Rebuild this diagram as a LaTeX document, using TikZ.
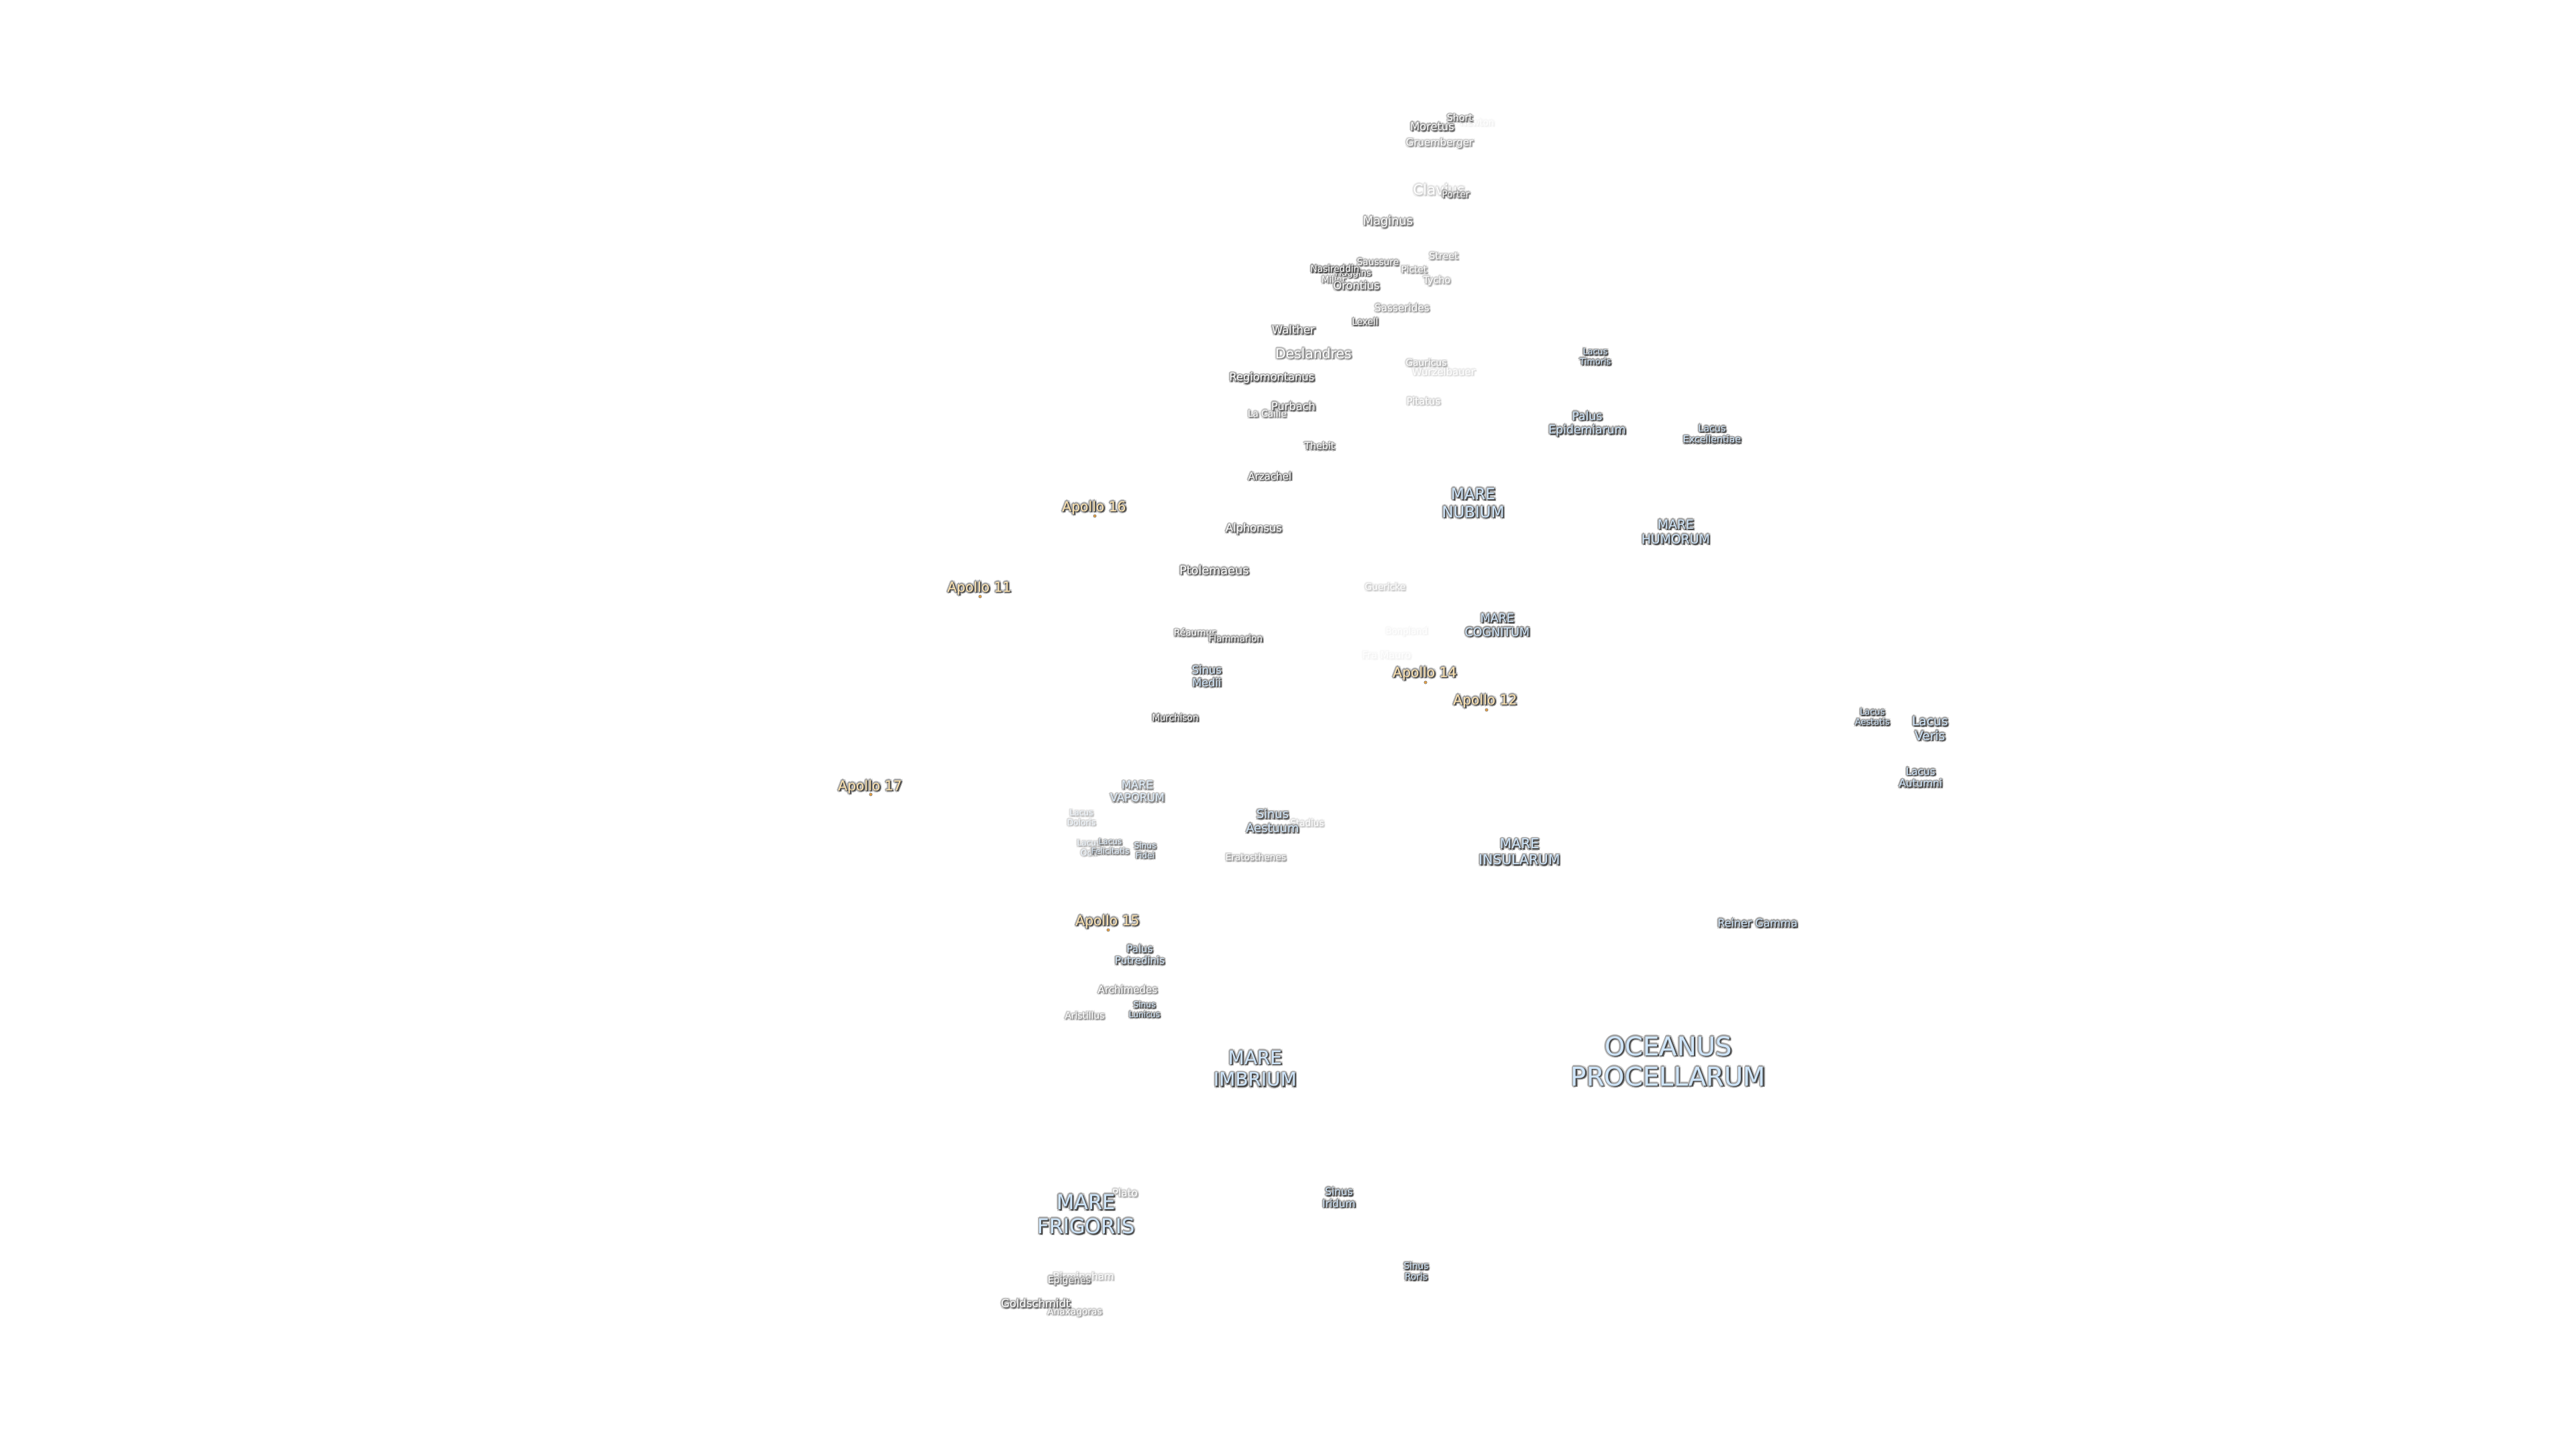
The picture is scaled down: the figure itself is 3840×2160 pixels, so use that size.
\documentclass[tikz,border=0pt]{standalone}
\usepackage{fontspec}
\setmainfont{DejaVu Sans}
\definecolor{mareblue}{HTML}{CFE6FB}
\definecolor{apollotan}{HTML}{FDE3B0}
\definecolor{dotorange}{HTML}{E8A040}
\definecolor{haloouter}{gray}{0.82}
\definecolor{halogray}{gray}{0.62}
\definecolor{shadowgray}{gray}{0.28}
\tikzset{
  lunartext/.style={inner sep=0pt,align=center,text=#1},
  sitedot/.style={circle,fill=dotorange,draw=gray,line width=0.3pt,inner sep=0pt,minimum size=2.2pt}
}
\newcommand{\lab}[7]{%
  \pgfmathsetmacro{\laberop}{min(1,(#6)^0.8)}%
  \pgfmathsetmacro{\labersz}{1.015*#4/2}%
  \pgfmathsetmacro{\laberls}{1.17*\labersz}%
  \pgfmathsetmacro{\labery}{#3+1.5}%
  \begin{scope}[transparency group,opacity=\laberop]
    \foreach \hx/\hy/\hi in {-2.6/0/o,3.2/0/p,0/-2.6/q,0/3.2/r,-1.8/-1.8/s,2.6/-1.8/t,-1.8/2.6/u,2.8/2.8/v}{
      \node[lunartext=haloouter,font=\fontsize{\labersz pt}{\laberls pt}\selectfont] (#1\hi) at (#2+\hx,\labery+\hy) {#7};
    }
    \foreach \hx/\hy/\hi in {-1.6/0/a,1.8/0/b,0/-1.6/c,0/1.8/d,-1.1/-1.1/e,1.3/-1.1/f,-1.1/1.3/g,1.3/1.3/h,2.3/2.3/i,2.7/1/j,1/2.7/k}{
      \node[lunartext=halogray,font=\fontsize{\labersz pt}{\laberls pt}\selectfont] (#1\hi) at (#2+\hx,\labery+\hy) {#7};
    }
    \foreach \hx/\hy/\hi in {1.2/1.2/m,1.8/1.8/n}{
      \node[lunartext=shadowgray,font=\fontsize{\labersz pt}{\laberls pt}\selectfont] (#1\hi) at (#2+\hx,\labery+\hy) {#7};
    }
    \node[lunartext=#5,font=\fontsize{\labersz pt}{\laberls pt}\selectfont] (#1) at (#2,\labery) {#7};
  \end{scope}}
\begin{document}
\begin{tikzpicture}[x=0.5pt,y=-0.5pt]
\path[fill=white] (0,0) rectangle (3840,2160);
\useasboundingbox (0,0) rectangle (3840,2160);
% faint craters first
\lab{newton}{2202}{181}{13}{white}{0.035}{Newton}
\lab{bonpland}{2097}{940}{13}{white}{0.03}{Bonpland}
\lab{framauro}{2067}{975}{14.4}{white}{0.03}{Fra Mauro}
\lab{wurzelbauer}{2152}{552}{14.6}{white}{0.12}{Wurzelbauer}
\lab{guericke}{2065}{873}{13.5}{white}{0.18}{Guericke}
\lab{clavius}{2145}{281}{21}{white}{0.2}{Clavius}
\lab{stadius}{1948.5}{1225}{13.3}{white}{0.2}{Stadius}
\lab{pitatus}{2122}{596}{14.6}{white}{0.22}{Pitatus}
\lab{birmingham}{1615}{1902}{14.7}{white}{0.25}{Birmingham}
\lab{gauricus}{2126}{539}{13.6}{white}{0.3}{Gauricus}
\lab{tycho}{2142}{417}{14}{white}{0.35}{Tycho}
\lab{plato}{1677}{1776}{15}{white}{0.35}{Plato}
\lab{anaxagoras}{1602}{1954}{13.5}{white}{0.4}{Anaxagoras}
\lab{eratosthenes}{1872}{1276}{13.5}{white}{0.4}{Eratosthenes}
\lab{street}{2152}{380}{14}{white}{0.4}{Street}
\lab{gruemberger}{2146}{212}{14.7}{white}{0.45}{Gruemberger}
\lab{pictet}{2108}{400}{13.5}{white}{0.45}{Pictet}
\lab{sasserides}{2090}{457}{15}{white}{0.45}{Sasserides}
\lab{aristillus}{1617}{1512}{13.6}{white}{0.45}{Aristillus}
\lab{lacaille}{1889}{615}{13.4}{white}{0.55}{La Caille}
\lab{archimedes}{1681}{1473}{14.8}{white}{0.55}{Archimedes}
\lab{deslandres}{1958}{525}{20}{white}{0.6}{Deslandres}
\lab{epigenes}{1594}{1907}{13.8}{white}{0.6}{Epigenes}
\lab{miller}{1988}{415}{13}{white}{0.6}{Miller}
\lab{maginus}{2069}{329}{17.5}{white}{0.65}{Maginus}
\lab{saussure}{2054}{389}{13.5}{white}{0.65}{Saussure}
\lab{porter}{2170}{288}{13.4}{white}{0.7}{Porter}
\lab{short}{2176}{174}{14}{white}{0.7}{Short}
\lab{reaumur}{1781}{941}{13.5}{white}{0.7}{Réaumur}
\lab{goldschmidt}{1544}{1941}{16.2}{white}{0.75}{Goldschmidt}
\lab{orontius}{2022}{424}{16}{white}{0.75}{Orontius}
\lab{thebit}{1967}{663}{14}{white}{0.75}{Thebit}
\lab{moretus}{2135}{187}{16}{white}{0.8}{Moretus}
\lab{huggins}{2017}{406}{13}{white}{0.8}{Huggins}
\lab{lexell}{2035}{478}{13.4}{white}{0.8}{Lexell}
\lab{purbach}{1928}{604}{16}{white}{0.8}{Purbach}
\lab{alphonsus}{1869}{787}{16}{white}{0.8}{Alphonsus}
\lab{walther}{1928}{490}{16.3}{white}{0.85}{Walther}
\lab{arzachel}{1893}{708}{14.8}{white}{0.85}{Arzachel}
\lab{ptolemaeus}{1810}{848}{17.4}{white}{0.85}{Ptolemaeus}
\lab{flammarion}{1842}{950}{13.3}{white}{0.85}{Flammarion}
\lab{regiomontanus}{1896}{562}{16}{white}{0.9}{Regiomontanus}
\lab{murchison}{1752}{1068}{13.3}{white}{0.95}{Murchison}
\lab{nasireddin}{1990}{399}{13.4}{white}{1}{Nasireddin}
% maria and lakes
\lab{doloris}{1612}{1217}{12}{mareblue}{0.25}{Lacus\\Doloris}
\lab{odii}{1623}{1262}{12}{mareblue}{0.3}{Lacus\\Odii}
\lab{felicitatis}{1655}{1260}{11.8}{mareblue}{0.6}{Lacus\\Felicitatis}
\lab{fidei}{1707}{1266}{12}{mareblue}{0.75}{Sinus\\Fidei}
\lab{vaporum}{1695.5}{1178}{16}{mareblue}{0.6}{MARE\\VAPORUM}
\lab{aestuum}{1897}{1222}{17.5}{mareblue}{0.9}{Sinus\\Aestuum}
\lab{putredinis}{1699}{1421}{14.7}{mareblue}{0.9}{Palus\\Putredinis}
\lab{lunicus}{1706}{1503}{12}{mareblue}{0.95}{Sinus\\Lunicus}
\lab{medii}{1799}{1006}{16}{mareblue}{0.95}{Sinus\\Medii}
\lab{timoris}{2378}{530}{12.5}{mareblue}{1}{Lacus\\Timoris}
\lab{epidemiarum}{2366}{630}{17}{mareblue}{1}{Palus\\Epidemiarum}
\lab{excellentiae}{2552}{645}{14}{mareblue}{1}{Lacus\\Excellentiae}
\lab{humorum}{2498}{791}{18.5}{mareblue}{1}{MARE\\HUMORUM}
\lab{nubium}{2196}{748}{22.6}{mareblue}{1}{MARE\\NUBIUM}
\lab{cognitum}{2232}{930}{17.3}{mareblue}{1}{MARE\\COGNITUM}
\lab{insularum}{2265}{1268}{20}{mareblue}{1}{MARE\\INSULARUM}
\lab{aestatis}{2791}{1067}{12.7}{mareblue}{1}{Lacus\\Aestatis}
\lab{veris}{2877}{1084}{18.3}{mareblue}{1}{Lacus\\Veris}
\lab{autumni}{2863}{1157}{15}{mareblue}{1}{Lacus\\Autumni}
\lab{reiner}{2620}{1374}{15.7}{mareblue}{1}{Reiner Gamma}
\lab{procellarum}{2487}{1580}{38}{mareblue}{1}{OCEANUS\\PROCELLARUM}
\lab{imbrium}{1871}{1591}{27.5}{mareblue}{1}{MARE\\IMBRIUM}
\lab{frigoris}{1619}{1808}{30}{mareblue}{1}{MARE\\FRIGORIS}
\lab{iridum}{1996}{1783}{15}{mareblue}{1}{Sinus\\Iridum}
\lab{roris}{2111}{1893}{13.5}{mareblue}{1}{Sinus\\Roris}
% Apollo sites
\node[sitedot] (d16) at (1632,769) {};
\node[sitedot] (d11) at (1461,889) {};
\node[sitedot] (d14) at (2125,1017) {};
\node[sitedot] (d12) at (2216,1058) {};
\node[sitedot] (d17) at (1298,1184) {};
\node[sitedot] (d15) at (1652,1386) {};
\lab{apollos}{1631}{755}{20}{apollotan}{1}{Apollo 16}
\lab{apolloe}{1460}{875}{20}{apollotan}{1}{Apollo 11}
\lab{apollof}{2124}{1002}{20}{apollotan}{1}{Apollo 14}
\lab{apollot}{2214}{1043}{20}{apollotan}{1}{Apollo 12}
\lab{apollov}{1297}{1171}{20}{apollotan}{1}{Apollo 17}
\lab{apollou}{1651}{1372}{20}{apollotan}{1}{Apollo 15}
\end{tikzpicture}
\end{document}
